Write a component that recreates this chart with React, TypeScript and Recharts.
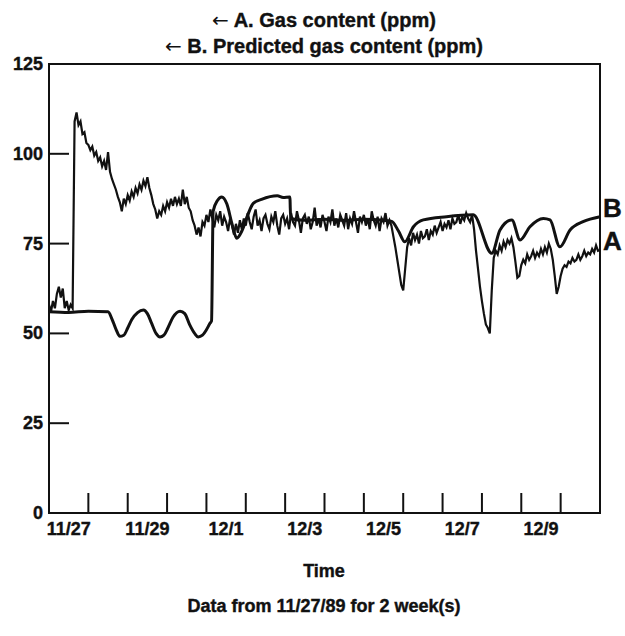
import { LabelList, Line, LineChart, ReferenceArea, XAxis, YAxis } from "recharts";

// measured gas readings, one every 0.05 day (72 min) starting 11/27/89 00:00
const SAMPLE_STEP = 0.05;
const gasContent = [
  58, 56, 59, 57, 61, 63, 60, 62.5, 57, 59, 56.5, 58, 57, 109, 111.5, 108, 109, 105.5, 106, 103,
  102.5, 101, 102, 99.5, 100.5, 98, 99, 96.5, 98, 95.5, 100.5, 95, 93, 91.5, 90, 88, 86.5, 84, 87.5, 86,
  88.5, 87, 89.5, 88, 90.5, 89, 91.5, 90, 92.5, 91, 93.5, 90.5, 88.5, 86, 84.5, 82, 84, 83, 85.5, 84,
  86.5, 85, 87.5, 85.5, 88, 86, 87.5, 85.5, 90, 86, 88, 85, 84, 81.5, 80, 77.5, 79.5, 77, 81, 80,
  83, 81, 84.5, 82, 79.5, 83, 81.5, 84, 80, 82.5, 81, 78.5, 82, 80, 77.5, 80.5, 78, 81.5, 79, 82,
  80, 83.5, 81, 79, 82.5, 84.5, 80, 81.5, 78.5, 82, 83, 80.5, 79, 82.5, 81, 84, 80, 77.5, 82, 83,
  80.5, 82, 79, 83.5, 81, 80, 84, 81.5, 78, 82, 83, 80.5, 82.5, 79, 81, 85, 80, 82, 79.5, 83,
  81, 78.5, 82.5, 81, 84.5, 80, 82, 79.5, 83, 81.5, 80, 83.5, 79, 82, 80.5, 84, 81, 78, 82.5, 81,
  83, 80, 82, 79, 84, 81.5, 80, 82.5, 78.5, 82, 81, 83.5, 80, 81.5, 80, 77, 74, 70.5, 67, 63.5,
  62, 68, 74, 76.5, 74.5, 78, 76, 77.5, 75, 78.5, 76.5, 77, 79, 76, 78.5, 77.5, 80, 78, 79.5, 81,
  78.5, 80.5, 79.5, 81.5, 79, 82, 80.5, 81, 83, 80.5, 82.5, 81.5, 83.5, 82, 81, 83, 79, 73, 68, 63,
  59, 55.5, 52.5, 51.5, 50, 62, 71, 73, 72, 74.5, 73, 75.5, 74, 76, 75, 76.5, 74, 70, 65.5, 66,
  69, 70.5, 69.5, 72, 70.5, 71.5, 73, 71, 72.5, 71.5, 73.5, 72, 74, 72.5, 75, 73.5, 70.5, 66, 61, 63,
  66, 68, 69, 68.5, 70, 69.5, 71, 70, 70.5, 72, 70.5, 71.5, 73, 71.5, 72.5, 72, 73.5, 72.5, 74.5, 73,
  73.2,
];

// predicted gas content (smooth model output)
const predictedDays = [
  0, 0.5, 1.0, 1.5, 1.6, 1.7, 1.8, 1.9, 2.0, 2.1, 2.25, 2.4, 2.5, 2.6, 2.72, 2.82, 2.92, 3.02,
  3.15, 3.33, 3.45, 3.57, 3.7, 3.79, 3.9, 4.0, 4.09, 4.13, 4.17, 4.28, 4.39, 4.52, 4.65, 4.77,
  4.9, 5.05, 5.19, 5.4, 5.8, 5.95, 6.12, 6.14, 6.5, 7.0, 7.5, 8.0, 8.5, 8.71, 8.88, 9.04, 9.26,
  9.51, 10.1, 10.78, 11.25, 11.46, 11.76, 11.97, 12.22, 12.56, 12.73, 12.98, 13.24, 13.57, 14,
];
const predictedGas = [
  56, 55.8, 56.2, 56, 54, 51.2, 49.2, 49.5, 51.5, 53.8, 55.8, 56.5, 55.5, 53, 50, 49, 49.5, 51.5,
  54.5, 56.2, 55.5, 52.5, 50, 49, 49.5, 51, 52.8, 53.5, 84, 87, 88, 86, 80.5, 76.5,
  78.5, 83, 86.2, 87.3, 88.3, 87.8, 88, 82, 81.5, 81.8, 81.5, 81.8, 81.5, 81.2, 78.5, 75.5, 79.7,
  81.6, 82.5, 83, 72.3, 78.8, 81.6, 76, 79.7, 82, 81.6, 74.1, 78.8, 81.1, 82.5,
];

const yTicks = [0, 25, 50, 75, 100, 125];
const dayTicks = [1, 2, 3, 4, 5, 6, 7, 8, 9, 10, 11, 12, 13];
const dateLabels = ["11/27", "11/29", "12/1", "12/3", "12/5", "12/7", "12/9"];
const dateLabelDays = [0.5, 2.5, 4.5, 6.5, 8.5, 10.5, 12.5];

const FONT = "'Liberation Sans', Arial, Helvetica, sans-serif";
const INK = "#111";
const Y_MARGIN = 6;
const TICK_LEN = 20;

const gasData = gasContent.map((v, i) => ({ day: i * SAMPLE_STEP, gas: v }));
const predictedData = predictedDays.map((d, i) => ({ day: d, gas: predictedGas[i] }));
const xTicks = [...dayTicks, ...dateLabelDays].sort((a, b) => a - b);

const svgText = {
  fontFamily: FONT,
  fontWeight: 700,
  fill: INK,
  stroke: INK,
  strokeWidth: 0.4,
};

function YTick(props: any) {
  const { x, y, payload } = props;
  const axisX = x + Y_MARGIN;
  const v = payload.value;
  return (
    <g>
      {v > 0 && v < 125 && (
        <line x1={axisX} x2={axisX + TICK_LEN} y1={y} y2={y} stroke={INK} strokeWidth={2} />
      )}
      <text x={x} y={y} textAnchor="end" dominantBaseline="central" fontSize={18} {...svgText}>
        {v}
      </text>
    </g>
  );
}

function XTick(props: any) {
  const { x, y, payload } = props;
  const idx = dateLabelDays.indexOf(payload.value);
  if (idx >= 0) {
    return (
      <text x={x} y={y + 22} textAnchor="middle" fontSize={18} {...svgText}>
        {dateLabels[idx]}
      </text>
    );
  }
  return <line x1={x} x2={x} y1={y} y2={y - TICK_LEN} stroke={INK} strokeWidth={2} />;
}

function endLabel(letter: string, lastIndex: number) {
  return (props: any) => {
    if (props.index !== lastIndex) return null;
    return (
      <text x={props.x + 3} y={props.y} fontSize={26} {...svgText}>
        {letter}
      </text>
    );
  };
}

const textStyle = {
  position: "absolute" as const,
  left: 0,
  width: 648,
  textAlign: "center" as const,
  fontFamily: FONT,
  fontWeight: 700,
  color: INK,
  lineHeight: "24px",
  whiteSpace: "nowrap" as const,
  WebkitTextStroke: "0.4px #111",
};

const arrow = (
  <span style={{ fontFamily: "'DejaVu Sans', sans-serif", fontWeight: 400, WebkitTextStroke: "0" }}>
    ←
  </span>
);

export default function App() {
  return (
    <div
      style={{
        position: "absolute",
        left: 0,
        top: 0,
        width: 625,
        height: 636,
        background: "#fff",
        overflow: "hidden",
      }}
    >
      <div style={{ ...textStyle, top: 8, fontSize: 20 }}>{arrow} A. Gas content (ppm)</div>
      <div style={{ ...textStyle, top: 34, fontSize: 20 }}>{arrow} B. Predicted gas content (ppm)</div>
      <LineChart width={625} height={636} margin={{ top: 64, right: 25, bottom: 93, left: 0 }}>
        <XAxis
          dataKey="day"
          type="number"
          domain={[0, 14]}
          ticks={xTicks}
          interval={0}
          tick={<XTick />}
          tickLine={false}
          tickSize={0}
          tickMargin={0}
          height={30}
          axisLine={{ stroke: INK, strokeWidth: 2 }}
        />
        <YAxis
          type="number"
          domain={[0, 125]}
          ticks={yTicks}
          interval={0}
          tick={<YTick />}
          tickLine={false}
          tickSize={0}
          tickMargin={Y_MARGIN}
          width={49}
          axisLine={{ stroke: INK, strokeWidth: 2 }}
        />
        <ReferenceArea
          x1={0}
          x2={14}
          y1={0}
          y2={125}
          fill="none"
          stroke={INK}
          strokeWidth={2}
          ifOverflow="visible"
        />
        <Line
          data={gasData}
          dataKey="gas"
          type="linear"
          stroke={INK}
          strokeWidth={2.2}
          dot={false}
          isAnimationActive={false}
        >
          <LabelList dataKey="gas" content={endLabel("A", gasData.length - 1)} />
        </Line>
        <Line
          data={predictedData}
          dataKey="gas"
          type="monotone"
          stroke={INK}
          strokeWidth={3}
          dot={false}
          isAnimationActive={false}
        >
          <LabelList dataKey="gas" content={endLabel("B", predictedData.length - 1)} />
        </Line>
      </LineChart>
      <div style={{ ...textStyle, top: 559, fontSize: 18 }}>Time</div>
      <div style={{ ...textStyle, top: 594, fontSize: 18 }}>Data from 11/27/89 for 2 week(s)</div>
    </div>
  );
}
